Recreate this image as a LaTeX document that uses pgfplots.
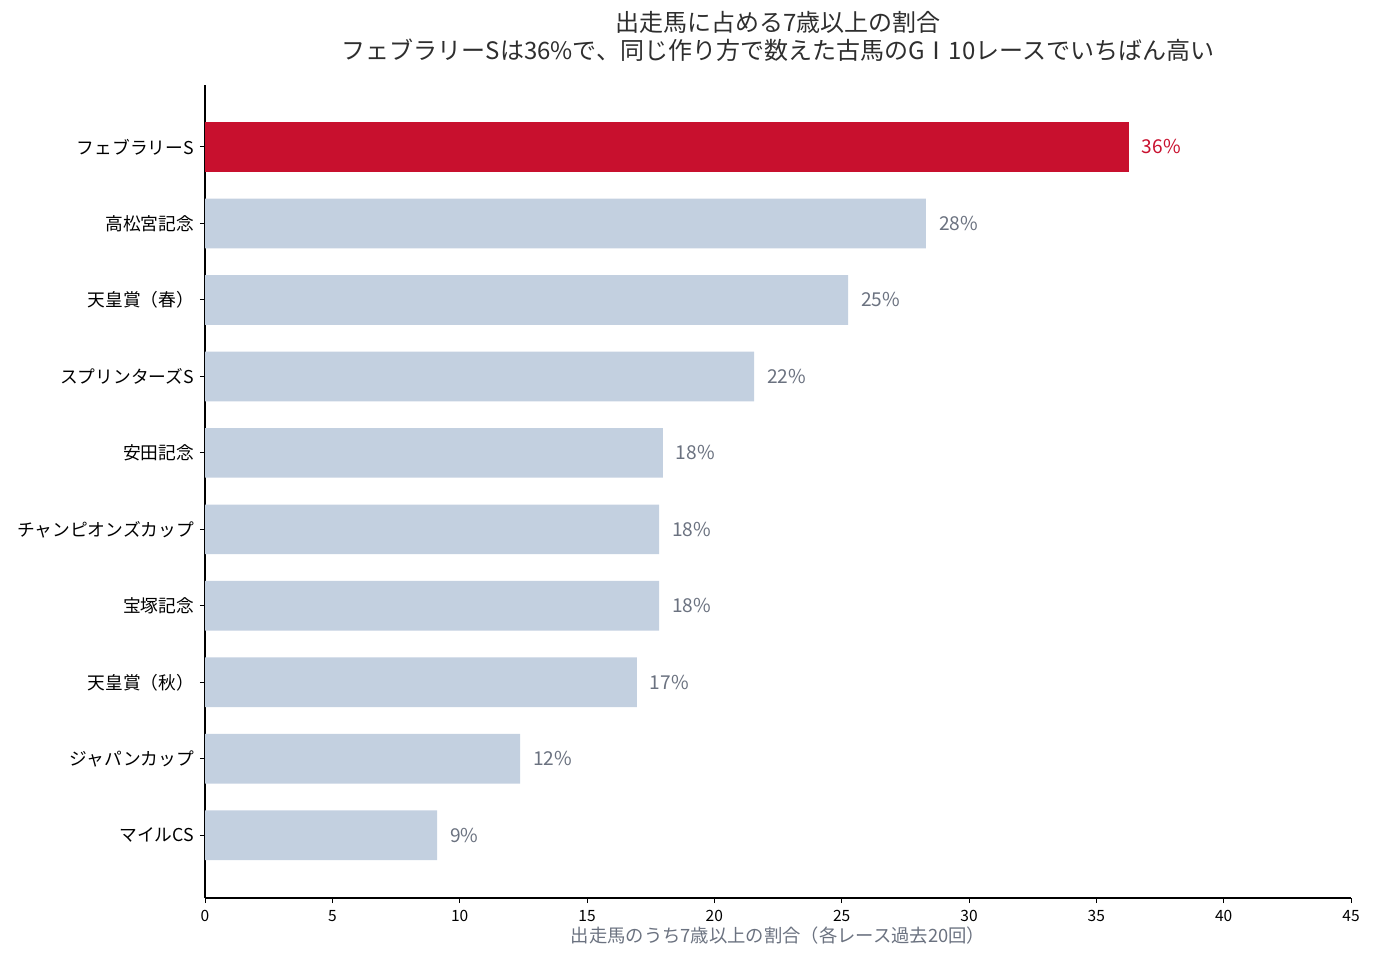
\documentclass[border=0pt]{standalone}
\usepackage{fontspec}
\setmainfont{Noto Sans CJK JP}
\usepackage{pgfplots}
\pgfplotsset{compat=1.18}
\definecolor{hl}{HTML}{C8102E}
\definecolor{base}{HTML}{C3D0E0}
\definecolor{lab}{HTML}{6B7280}
\definecolor{ttl}{HTML}{2E2E2E}
\begin{document}
\begin{tikzpicture}
\path[use as bounding box] (0,0) rectangle (688bp,480bp);
\begin{axis}[
  at={(102.5bp,31bp)}, anchor=south west,
  scale only axis, width=573bp, height=406.5bp,
  xmin=0, xmax=45, ymin=-0.82, ymax=9.81,
  xbar, bar width=0.65, bar shift=0pt,
  axis x line*=bottom, axis y line*=left,
  axis line style={-, line width=0.6pt},
  tick align=outside, major tick length=2.5bp,
  tick style={black, line width=0.5pt},
  xtick={0,5,...,45},
  ytick={0,...,9},
  yticklabels={マイルCS,ジャパンカップ,天皇賞（秋）,宝塚記念,チャンピオンズカップ,安田記念,スプリンターズS,天皇賞（春）,高松宮記念,フェブラリーS},
  /pgf/number format/assume math mode=true,
  xticklabel style={font=\fontsize{7.8}{8}\selectfont, yshift=0bp},
  yticklabel style={font=\fontsize{8.9}{10}\selectfont, xshift=0.5bp},
  xlabel={出走馬のうち7歳以上の割合（各レース過去20回）},
  xlabel style={font=\fontsize{9.2}{10}\selectfont, text=lab, yshift=4bp},
  title={出走馬に占める7歳以上の割合\\フェブラリーSは36\%で、同じ作り方で数えた古馬のGⅠ10レースでいちばん高い},
  title style={align=center, anchor=south, inner sep=0pt, yshift=5.5bp, text=ttl, font=\fontsize{12.05}{14}\selectfont},
  nodes near coords={\pgfmathprintnumber[fixed,precision=0]{\pgfplotspointmeta}\%},
  point meta=x,
  nodes near coords style={anchor=west, xshift=3bp, font=\fontsize{9.6}{10}\selectfont},
]
\addplot[fill=base, draw=none, nodes near coords style={text=lab}] coordinates {
(9.11,0) (12.37,1) (16.96,2) (17.83,3) (17.83,4) (17.98,5) (21.56,6) (25.25,7) (28.31,8)};
\addplot[fill=hl, draw=none, nodes near coords style={text=hl}] coordinates {(36.28,9)};
\end{axis}
\end{tikzpicture}
\end{document}
